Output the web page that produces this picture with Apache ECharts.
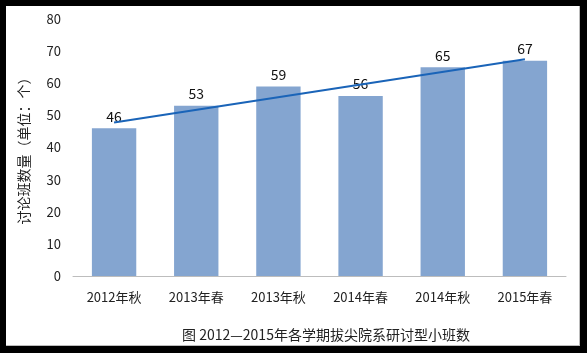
<!DOCTYPE html>
<html>
<head>
<meta charset="utf-8">
<script src="https://cdn.jsdelivr.net/npm/echarts@6/dist/echarts.min.js"></script>
<style>
    html, body { margin: 0; padding: 0; }
    #frame { position: relative; width: 587px; height: 353px; background: #000; }
    #chart { position: absolute; left: 6px; top: 6px; width: 573px; height: 339px; background: #fff; border-right: 1px solid #bcbcbc; border-bottom: 1px solid #bcbcbc; }
</style>
</head>
<body>
<div id="frame"><div id="chart"></div></div>
<script>
// semesters on the x axis
var semesters = ['2012年秋', '2013年春', '2013年秋', '2014年春', '2014年秋', '2015年春'];
// number of seminar classes
var classCounts = [46, 53, 59, 56, 65, 67];
// linear trend line, read at its two ends
var trendValues = [47.8, null, null, null, null, 67.5];
var yTicks = [0, 80, 10];

var fontCN = '"Noto Sans CJK SC", "Noto Sans", sans-serif';

var chart = echarts.init(document.getElementById('chart'));
var option = {
    animation: false,
    title: {
        text: '图 2012—2015年各学期拔尖院系研讨型小班数',
        left: 315,
        textAlign: 'center',
        top: 317,
        textStyle: { fontFamily: fontCN, fontSize: 14, fontWeight: 'normal', color: '#222' }
    },
    grid: { left: 67, right: 13, top: 13, bottom: 69 },
    xAxis: {
        type: 'category',
        data: semesters,
        axisLine: { lineStyle: { color: '#bdbdbd', width: 1 } },
        axisTick: { show: false },
        axisLabel: { margin: 15, fontFamily: fontCN, fontSize: 13, color: '#222' }
    },
    yAxis: {
        type: 'value',
        min: yTicks[0],
        max: yTicks[1],
        interval: yTicks[2],
        name: '讨论班数量（单位：个）',
        nameLocation: 'middle',
        nameGap: 42,
        nameTextStyle: { fontFamily: fontCN, fontSize: 14, color: '#222' },
        axisLine: { show: false },
        axisTick: { show: false },
        splitLine: { show: false },
        axisLabel: { margin: 12, fontFamily: fontCN, fontSize: 13, color: '#222' }
    },
    series: [
        {
            name: '小班数',
            type: 'bar',
            data: classCounts,
            barWidth: '54%',
            itemStyle: { color: '#84a5d0' },
            label: {
                show: true,
                position: 'top',
                distance: 5,
                fontFamily: fontCN,
                fontSize: 14,
                color: '#111'
            }
        },
        {
            name: '趋势',
            type: 'line',
            data: trendValues,
            connectNulls: true,
            symbol: 'none',
            lineStyle: { color: '#1a64b8', width: 2 },
            z: 5
        }
    ]
};
chart.setOption(option);
</script>
</body>
</html>
